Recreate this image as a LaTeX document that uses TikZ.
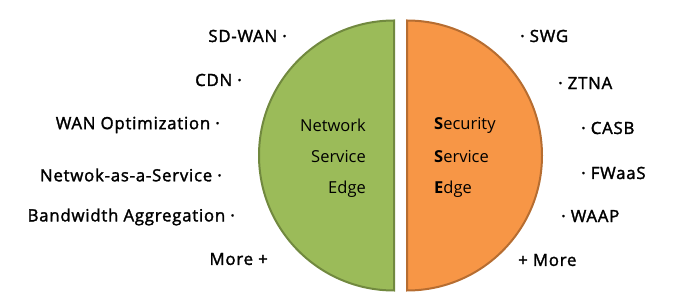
\documentclass[tikz,border=0pt]{standalone}
\usepackage{fontspec}
\setmainfont{Open Sans}
\newfontfamily\labelfont[FakeBold=1.8, LetterSpace=4.5]{Open Sans}
\definecolor{nsefill}{HTML}{9BBB59}
\definecolor{nsedraw}{HTML}{71893F}
\definecolor{ssefill}{HTML}{F79646}
\definecolor{ssedraw}{HTML}{B66D31}
\begin{document}
\begin{tikzpicture}[
  x=1pt, y=1pt,
  half/.style={line width=2pt},
  item/.style={font=\fontsize{16.8}{18}\labelfont, inner sep=0pt},
  core/.style={font=\fontsize{16.5}{18}\selectfont, inner sep=0pt}
]
\useasboundingbox (0,0) rectangle (689,297);

% Half discs
\draw[half, fill=nsefill, draw=nsedraw] (394,276.5) arc (90:270:135) -- cycle;
\draw[half, fill=ssefill, draw=ssedraw] (407,276.5) arc (90:-90:135) -- cycle;

% Inner titles
\node[core, anchor=east] (nse1) at (366,172) {Network};
\node[core, anchor=east] (nse2) at (366,140) {Service};
\node[core, anchor=east] (nse3) at (366,108) {Edge};
\node[core, anchor=west] (sse1) at (434,172) {\textbf{S}ecurity};
\node[core, anchor=west] (sse2) at (434,140) {\textbf{S}ervice};
\node[core, anchor=west] (sse3) at (434,108) {\textbf{E}dge};

% Left items (network side)
\node[item, anchor=east] (sdwan) at (287,261) {SD-WAN ·};
\node[item, anchor=east] (cdn)   at (242,217) {CDN ·};
\node[item, anchor=east] (wanop) at (220,172) {WAN Optimization ·};
\node[item, anchor=east] (naas)  at (222,122) {Netwok-as-a-Service ·};
\node[item, anchor=east] (bwagg) at (235,80)  {Bandwidth Aggregation ·};
\node[item, anchor=east] (nmore) at (268,38)  {More +};

% Right items (security side)
\node[item, anchor=west] (swg)   at (520,261) {· SWG};
\node[item, anchor=west] (ztna)  at (558,214) {· ZTNA};
\node[item, anchor=west] (casb)  at (581,169) {· CASB};
\node[item, anchor=west] (fwaas) at (581,124) {· FWaaS};
\node[item, anchor=west] (waap)  at (561,81)  {· WAAP};
\node[item, anchor=west] (smore) at (518,37)  {+ More};

\end{tikzpicture}
\end{document}
